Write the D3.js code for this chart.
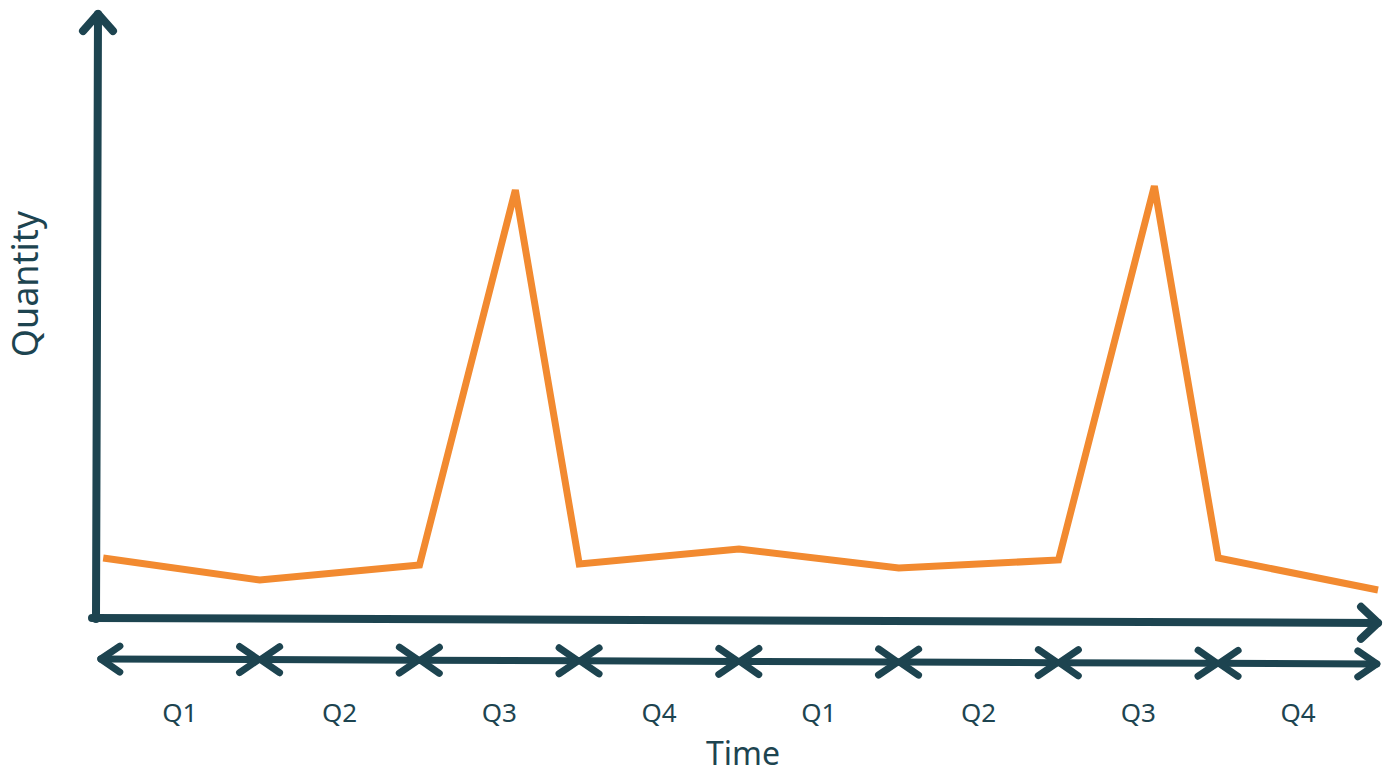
<!DOCTYPE html>
<html>
<head>
<meta charset="utf-8">
<script src="https://cdn.jsdelivr.net/npm/d3@7"></script>
<style>
  body { margin: 0; background: #fff; }
  text { font-family: "Noto Sans", sans-serif; fill: #1d4450; }
</style>
</head>
<body>
<div id="chart"></div>
<script>
// quarters along the time axis
const quarters = ["Q1", "Q2", "Q3", "Q4", "Q1", "Q2", "Q3", "Q4"];
// time position (in quarters) and quantity of each line point
const times = [0.02, 1, 2, 2.6, 3, 4, 5, 6, 6.6, 7, 8];
const quantity = [62, 40, 55, 430, 56, 71, 52, 60, 434, 62, 30];

const W = 1391, H = 776;
const ink = "#1d4450", orange = "#f28a30";

const svg = d3.select("#chart").append("svg")
    .attr("width", W).attr("height", H);

const x = d3.scaleLinear().domain([0, quarters.length]).range([100, 1378]);
const y = d3.scaleLinear().domain([0, 600]).range([620, 20]);

/* axes: slightly tilted like a hand drawing */
const axes = svg.append("g")
    .attr("fill", "none")
    .attr("stroke", ink)
    .attr("stroke-linecap", "round")
    .attr("stroke-linejoin", "round");

// vertical axis with arrow at the top
axes.append("path")
    .attr("stroke-width", 8)
    .attr("d", "M96,619 L98,14");
axes.append("path")
    .attr("stroke-width", 8)
    .attr("d", "M83,31 L98,14 L113,31");

const tilt = axes.append("g")
    .attr("transform", "rotate(0.22," + x(0) + ",618)");

// horizontal axis with arrow at the right
tilt.append("path")
    .attr("stroke-width", 8)
    .attr("d", "M92,618 L" + x(quarters.length) + ",618");
tilt.append("path")
    .attr("stroke-width", 8)
    .attr("d", "M" + (x(quarters.length) - 17) + ",602 L" + x(quarters.length) + ",618 L" + (x(quarters.length) - 17) + ",634");

// double arrows for each quarter
const rowY = 659;
const spans = tilt.selectAll("g.span")
    .data(quarters)
    .enter().append("g")
    .attr("class", "span")
    .attr("stroke-width", 7);

spans.append("path")
    .attr("d", (d, i) => "M" + (x(i) + 1) + "," + rowY + " L" + (x(i + 1) - 1) + "," + rowY);
spans.append("path")
    .attr("d", (d, i) => "M" + (x(i) + 20) + "," + (rowY - 13) + " L" + (x(i) + 1) + "," + rowY + " L" + (x(i) + 20) + "," + (rowY + 13));
spans.append("path")
    .attr("d", (d, i) => "M" + (x(i + 1) - 20) + "," + (rowY - 13) + " L" + (x(i + 1) - 1) + "," + rowY + " L" + (x(i + 1) - 20) + "," + (rowY + 13));

// quarter labels
svg.selectAll("text.q")
    .data(quarters)
    .enter().append("text")
    .attr("class", "q")
    .attr("x", (d, i) => x(i + 0.5))
    .attr("y", 722)
    .attr("text-anchor", "middle")
    .attr("font-size", "26px")
    .text(d => d);

// axis titles
svg.append("text")
    .attr("x", 743)
    .attr("y", 765)
    .attr("text-anchor", "middle")
    .attr("font-size", "32px")
    .text("Time");

svg.append("text")
    .attr("transform", "translate(38,284) rotate(-90)")
    .attr("text-anchor", "middle")
    .attr("font-size", "36px")
    .text("Quantity");

// the data line
const line = d3.line()
    .x((d, i) => x(times[i]))
    .y(d => y(d));

svg.append("path")
    .datum(quantity)
    .attr("fill", "none")
    .attr("stroke", orange)
    .attr("stroke-width", 7)
    .attr("stroke-linejoin", "miter")
    .attr("d", line);
</script>
</body>
</html>
